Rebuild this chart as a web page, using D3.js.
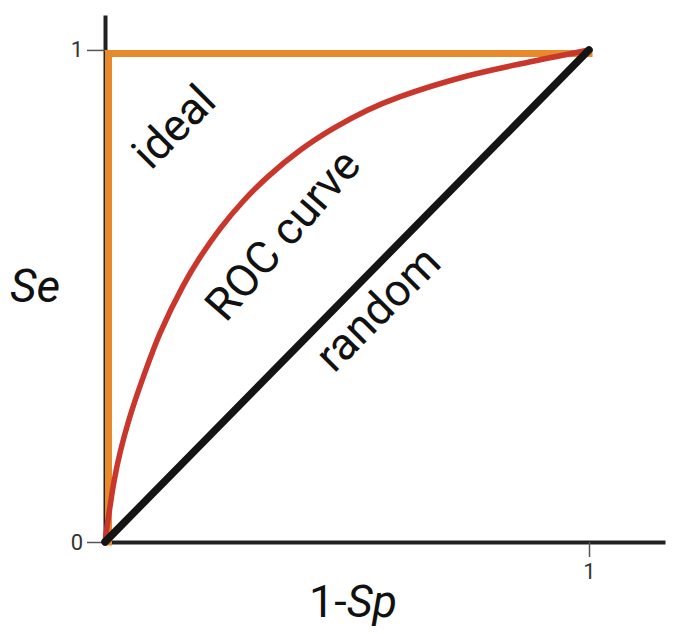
<!DOCTYPE html>
<html>
<head>
<meta charset="utf-8">
<script src="https://cdn.jsdelivr.net/npm/d3@7"></script>
<style>
  body { margin: 0; background: #fff; }
  svg text { font-family: Roboto, "Open Sans", sans-serif; }
</style>
</head>
<body>
<div id="chart"></div>
<script>
// ROC curve (1 - specificity, sensitivity)
const rocFpr = [0, 0.004, 0.010, 0.019, 0.032, 0.050, 0.079, 0.114, 0.161, 0.196, 0.238, 0.285,
                0.335, 0.403, 0.471, 0.541, 0.610, 0.748, 0.884, 1];
const rocTpr = [0, 0.030, 0.070, 0.125, 0.185, 0.250, 0.335, 0.425, 0.520, 0.578, 0.637, 0.692,
                0.741, 0.796, 0.840, 0.877, 0.905, 0.947, 0.977, 1];
// ideal classifier and random guess
const idealFpr = [0, 0, 1];
const idealTpr = [0, 1, 1];
const randomFpr = [0, 1];
const randomTpr = [0, 1];
const xTicks = [1];
const yTicks = [0, 1];

const width = 677;
const height = 634;

const svg = d3.select('#chart')
    .append('svg')
    .attr('width', width)
    .attr('height', height);

// axes run a bit past 1
const x = d3.scaleLinear().domain([0, 1.157]).range([105, 665]);
const y = d3.scaleLinear().domain([0, 1.071]).range([542, 15]);

const xAxis = svg.append('g')
    .attr('transform', `translate(0,${y(0)})`)
    .call(d3.axisBottom(x).tickValues(xTicks).tickSize(15).tickSizeOuter(0).tickPadding(6).tickFormat(d3.format('d')));

const yAxis = svg.append('g')
    .attr('transform', `translate(${x(0)},0)`)
    .call(d3.axisLeft(y).tickValues(yTicks).tickSize(18).tickSizeOuter(0).tickPadding(4).tickFormat(d3.format('d')));

[xAxis, yAxis].forEach(function(g) {
    g.select('.domain').attr('stroke', '#222').attr('stroke-width', 4);
    g.selectAll('.tick line').attr('stroke', '#555').attr('stroke-width', 1.5);
    g.selectAll('.tick text')
        .attr('fill', '#333')
        .style('font-size', '22px')
        .style('font-family', 'Roboto, sans-serif');
});

const line = d3.line()
    .x(d => x(d[0]))
    .y(d => y(d[1]));

// ideal: drawn just inside the axes
svg.append('path')
    .datum(d3.zip(idealFpr, idealTpr))
    .attr('d', line)
    .attr('transform', 'translate(3.5,3.5)')
    .attr('fill', 'none')
    .attr('stroke', '#e8892c')
    .attr('stroke-width', 7);

svg.append('path')
    .datum(d3.zip(rocFpr, rocTpr))
    .attr('d', line.curve(d3.curveCatmullRom.alpha(0.5)))
    .attr('fill', 'none')
    .attr('stroke', '#c9372c')
    .attr('stroke-width', 5.5);

svg.append('path')
    .datum(d3.zip(randomFpr, randomTpr))
    .attr('d', line.curve(d3.curveLinear))
    .attr('fill', 'none')
    .attr('stroke', '#141414')
    .attr('stroke-width', 7.5)
    .attr('stroke-linecap', 'round');

// line labels
const labels = [
    { text: 'ideal', cx: 175, cy: 128, angle: -45 },
    { text: 'ROC curve', cx: 284, cy: 236, angle: -49 },
    { text: 'random', cx: 379, cy: 310, angle: -45 }
];

svg.append('g')
    .selectAll('text')
    .data(labels)
    .enter()
    .append('text')
    .attr('transform', d => `translate(${d.cx},${d.cy}) rotate(${d.angle})`)
    .attr('text-anchor', 'middle')
    .attr('dy', '0.3em')
    .attr('fill', '#111')
    .style('font-size', '45px')
    .text(d => d.text);

// axis titles
svg.append('text')
    .attr('x', 35)
    .attr('y', 302)
    .attr('text-anchor', 'middle')
    .attr('fill', '#111')
    .style('font-size', '46px')
    .style('font-style', 'italic')
    .text('Se');

const xTitle = svg.append('text')
    .attr('x', 353)
    .attr('y', 617)
    .attr('text-anchor', 'middle')
    .attr('fill', '#111')
    .style('font-size', '45px');
xTitle.append('tspan').text('1-');
xTitle.append('tspan').style('font-style', 'italic').text('Sp');
</script>
</body>
</html>
